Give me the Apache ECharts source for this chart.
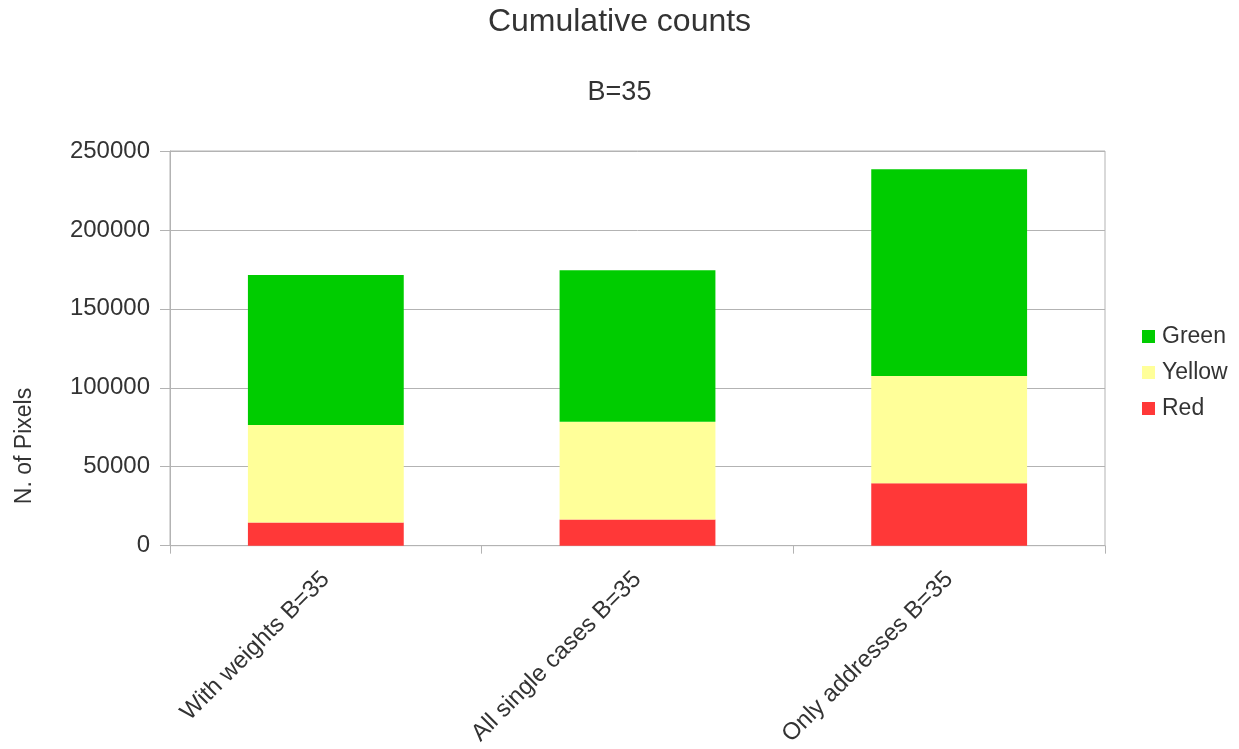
<!DOCTYPE html>
<html>
<head>
<meta charset="utf-8">
<style>
  html, body { margin: 0; padding: 0; background: #ffffff; }
  #chart { width: 1239px; height: 749px; }
</style>
<script src="https://cdn.jsdelivr.net/npm/echarts@6/dist/echarts.min.js"></script>
</head>
<body>
<div id="chart"></div>
<script>
// Pixel counts per method, split by colour class
const categories = ['With weights B=35', 'All single cases B=35', 'Only addresses B=35'];
const redValues = [14700, 16500, 39500];
const yellowValues = [61800, 62000, 68000];
const greenValues = [95000, 96000, 131000];
const yTicks = [0, 50000, 100000, 150000, 200000, 250000];

const FONT = '"Liberation Sans", Arial, sans-serif';
const TEXT = '#333333';
const LINE = '#b3b3b3';

const chart = echarts.init(document.getElementById('chart'), null, { renderer: 'canvas' });

function stackSeries(name, values, color) {
  return {
    name: name,
    type: 'bar',
    stack: 'total',
    barWidth: '50%',
    data: values,
    itemStyle: { color: color },
    emphasis: { disabled: true }
  };
}

chart.setOption({
  animation: false,
  backgroundColor: '#ffffff',
  title: [
    {
      text: 'Cumulative counts',
      left: 'center',
      top: 6,
      padding: 0,
      textStyle: { fontFamily: FONT, fontSize: 32, fontWeight: 'normal', color: TEXT }
    },
    {
      text: 'B=35',
      left: 'center',
      top: 79,
      padding: 0,
      textStyle: { fontFamily: FONT, fontSize: 27, fontWeight: 'normal', color: TEXT }
    }
  ],
  legend: {
    orient: 'vertical',
    left: 1137,
    top: 320,
    itemWidth: 13,
    itemHeight: 13,
    itemGap: 13,
    icon: 'rect',
    data: ['Green', 'Yellow', 'Red'],
    textStyle: { fontFamily: FONT, fontSize: 23, color: TEXT, padding: [0, 0, 0, 2] }
  },
  grid: {
    left: 170,
    right: 134,
    top: 151,
    bottom: 203,
    show: true,
    borderColor: LINE,
    borderWidth: 1
  },
  xAxis: {
    type: 'category',
    data: categories,
    boundaryGap: true,
    axisLine: { show: true, lineStyle: { color: LINE, width: 1 } },
    axisTick: { show: true, length: 8, lineStyle: { color: LINE } },
    axisLabel: {
      rotate: 45,
      margin: 30,
      interval: 0,
      fontFamily: FONT,
      fontSize: 24,
      color: TEXT
    }
  },
  yAxis: {
    type: 'value',
    min: yTicks[0],
    max: yTicks[yTicks.length - 1],
    interval: yTicks[1] - yTicks[0],
    axisLine: { show: true, lineStyle: { color: LINE, width: 1 } },
    axisTick: { show: true, length: 10, lineStyle: { color: LINE } },
    splitLine: { show: true, lineStyle: { color: LINE, width: 1 } },
    axisLabel: {
      margin: 20,
      fontFamily: FONT,
      fontSize: 24,
      color: TEXT,
      formatter: function (v) { return String(v); }
    }
  },
  graphic: [
    {
      type: 'text',
      x: 25,
      y: 446,
      rotation: Math.PI / 2,
      style: {
        text: 'N. of Pixels',
        fontFamily: FONT,
        fontSize: 23,
        fill: TEXT,
        align: 'center',
        verticalAlign: 'middle'
      }
    }
  ],
  series: [
    stackSeries('Red', redValues, '#ff3838'),
    stackSeries('Yellow', yellowValues, '#ffff99'),
    stackSeries('Green', greenValues, '#00cc00')
  ]
});
</script>
</body>
</html>
